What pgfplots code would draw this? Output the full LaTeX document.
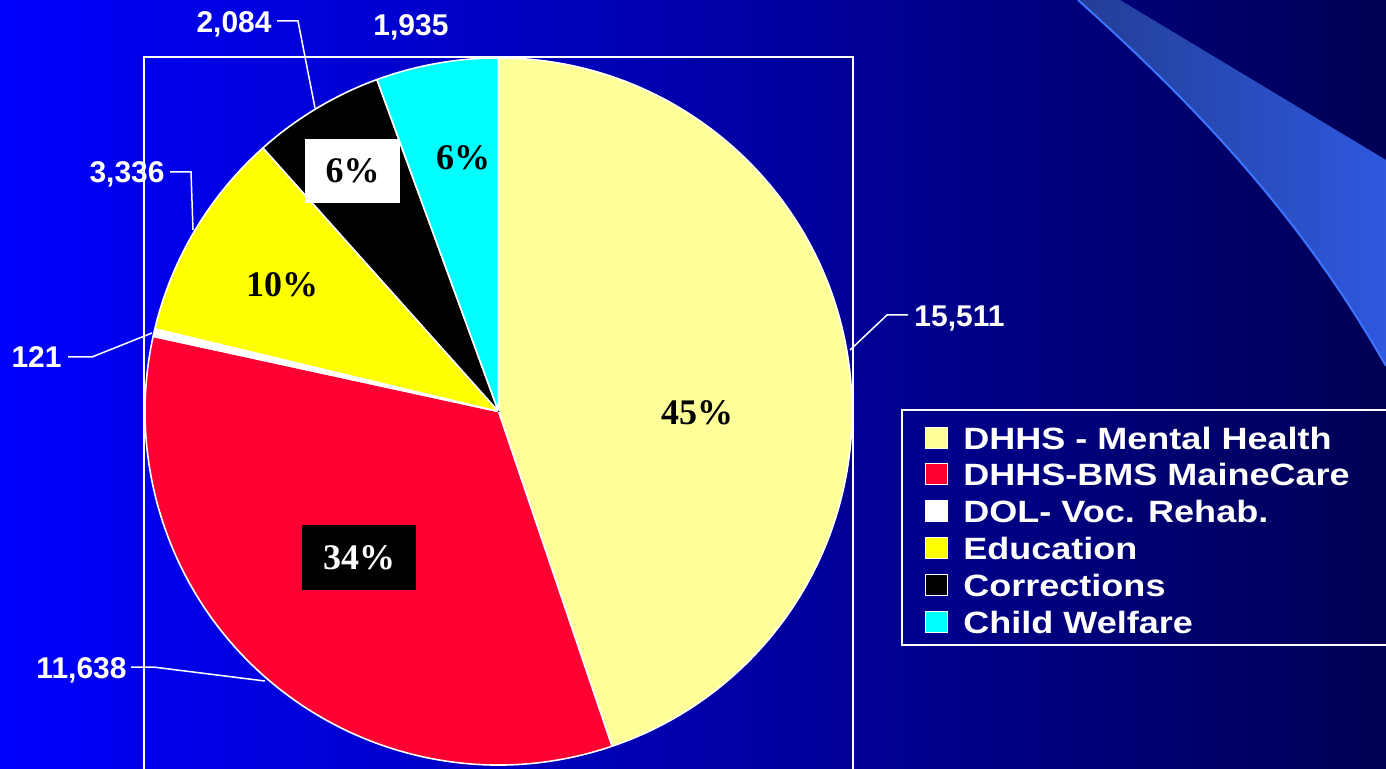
\documentclass[border=0pt]{standalone}
\usepackage{fontspec}
\usepackage{pgfplots}
\pgfplotsset{compat=1.18}
\usepackage{pgfplotstable}

\newfontfamily\sansb{Liberation Sans}
\newfontfamily\legb{Liberation Sans}[FakeStretch=1.17]
\newfontfamily\serifb{Liberation Serif}

\definecolor{bgL}{RGB}{0,0,255}
\definecolor{bgR}{RGB}{0,0,85}
\definecolor{swA}{RGB}{35,62,150}
\definecolor{swB}{RGB}{46,88,222}
\definecolor{swE}{RGB}{60,115,255}
\definecolor{pie0}{RGB}{255,255,153}
\definecolor{pie1}{RGB}{255,0,51}
\definecolor{pie2}{RGB}{255,255,255}
\definecolor{pie3}{RGB}{255,255,0}
\definecolor{pie4}{RGB}{0,0,0}
\definecolor{pie5}{RGB}{0,255,255}

% slices clockwise from 12 o'clock; start = running sum of the values before
\pgfplotstableread{
x y k start value
0 0 0 0 15511
0 0 1 15511 11638
0 0 2 27149 121
0 0 3 27270 3336
0 0 4 30606 2084
0 0 5 32690 1935
}\piedata
\newcommand\total{34625}
\newcommand\R{176.75pt}

\tikzset{
  vlab/.style={text=white, inner sep=0pt, font=\sansb\bfseries\fontsize{15}{18}\selectfont},
  plab/.style={inner sep=0pt, font=\serifb\bfseries\fontsize{18}{20}\selectfont},
  lead/.style={white, line width=0.75pt},
}

\begin{document}
\begin{tikzpicture}[x=0.5pt,y=-0.5pt]
\useasboundingbox (0,0) rectangle (1386,769);
\clip (0,0) rectangle (1386,769);
\shade[left color=bgL, right color=bgR] (0,0) rectangle (1386,769);
% swoosh in the corner
\shade[left color=swA, right color=swB] (1078,0) .. controls (1195,105) and (1300,215) .. (1386,366) -- (1386,160) -- (1120,0) -- cycle;
\draw[swE, line width=1pt] (1078,0) .. controls (1195,105) and (1300,215) .. (1386,366);

\begin{scope}[x=1cm, y=1cm]
\begin{axis}[
  at={(71.8pt,-28.45pt)}, anchor=north west,
  x=176.75pt, y=176.75pt,
  xmin=-1.004, xmax=1.004, ymin=-1.25, ymax=1.003,
  ticks=none,
  axis line style={white, line width=1pt},
  clip=false,
  legend image code/.code={\draw[#1, draw=white, line width=0.5pt] (0pt,-5.25pt) rectangle (11pt,5.25pt);},
  legend style={at={(1.1007,0.5456)}, anchor=north west, draw=none, fill=none,
    inner sep=0pt, row sep=0pt, column sep=5.5pt, text=white,
    font=\legb\bfseries\fontsize{15.4}{18}\selectfont,
    cells={anchor=west, inner xsep=0pt, inner ysep=0pt, text height=12.9pt, text depth=2.4pt}},
  legend cell align=left,
]
\addplot[forget plot, scatter, only marks, mark=*, mark size=0.1pt,
  mark options={draw=none, fill=none},
  point meta={\thisrow{value}},
  visualization depends on={\thisrow{k}\as\pk},
  visualization depends on={\thisrow{start}\as\pstart},
  visualization depends on={\thisrow{value}\as\pval},
  scatter/@pre marker code/.code={%
    \edef\aA{\fpeval{90-360*\pstart/\total}}%
    \edef\aB{\fpeval{90-360*(\pstart+\pval)/\total}}%
    \edef\kk{\fpeval{round(\pk)}}%
    \filldraw[fill=pie\kk, draw=white, line width=0.8pt, line join=round]
      (0pt,0pt) -- (\aA:\R) arc[start angle=\aA, end angle=\aB, radius=\R] -- cycle;
  },
  scatter/@post marker code/.code={},
] table[x=x, y=y] {\piedata};

\addlegendimage{fill=pie0}\addlegendentry{DHHS - Mental Health}
\addlegendimage{fill=pie1}\addlegendentry{DHHS-BMS MaineCare}
\addlegendimage{fill=pie2}\addlegendentry{DOL- Voc. Rehab.}
\addlegendimage{fill=pie3}\addlegendentry{Education}
\addlegendimage{fill=pie4}\addlegendentry{Corrections}
\addlegendimage{fill=pie5}\addlegendentry{Child Welfare}
\end{axis}
\end{scope}

% legend frame
\draw[white, line width=0.8pt] (902,410) rectangle (1400,645);

% percentages
\node[plab] at (697,413) {45\%};
\node[plab, fill=black, text=white, minimum width=57pt, minimum height=32.5pt] at (359,557.5) {34\%};
\node[plab] at (282,285) {10\%};
\node[plab, fill=white, minimum width=47.5pt, minimum height=32pt] at (352.5,171) {6\%};
\node[plab] at (463,158) {6\%};

% values with leader lines
\node[vlab, anchor=base west] at (914,327) {15,511};
\draw[lead] (850,350) -- (887,315) -- (908,315);
\node[vlab, anchor=base east] at (127,678) {11,638};
\draw[lead] (131,667) -- (153,667) -- (265,681);
\node[vlab, anchor=base east] at (62,368) {121};
\draw[lead] (68,357) -- (92,357) -- (152,333);
\node[vlab, anchor=base east] at (165,183) {3,336};
\draw[lead] (170,172) -- (191,172) -- (193,230);
\node[vlab, anchor=base east] at (272,33) {2,084};
\draw[lead] (277,21) -- (298,21) -- (315,108);
\node[vlab, anchor=base] at (411,36) {1,935};
\end{tikzpicture}
\end{document}
